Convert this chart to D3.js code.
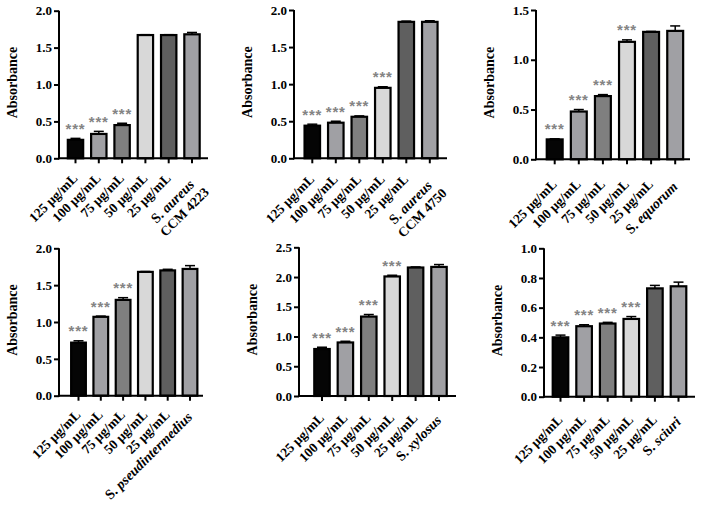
<!DOCTYPE html>
<html lang="en">
<head>
  <meta charset="UTF-8" />
  <title>Absorbance panels</title>
  <script src="https://d3js.org/d3.v7.min.js"></script>
  <style>
    body { margin: 0; background: #fff; }
    svg { display: block; }
  </style>
</head>
<body>
  <svg width="702" height="505" id="chart"></svg>

  <script>
    const svg = d3.select("#chart");

    // data
    const doses = ["125 μg/mL", "100 μg/mL", "75 μg/mL", "50 μg/mL", "25 μg/mL"];
    const controls = [
      ["S.", "aureus", "CCM 4223"],
      ["S.", "aureus", "CCM 4750"],
      ["S.", "equorum"],
      ["S.", "pseudintermedius"],
      ["S.", "xylosus"],
      ["S.", "sciuri"]
    ];
    const means = [
      [0.25, 0.33, 0.45, 1.67, 1.67, 1.68],
      [0.44, 0.48, 0.56, 0.95, 1.84, 1.84],
      [0.20, 0.48, 0.635, 1.18, 1.28, 1.29],
      [0.72, 1.07, 1.30, 1.68, 1.70, 1.72],
      [0.79, 0.90, 1.335, 2.01, 2.16, 2.17],
      [0.40, 0.475, 0.493, 0.524, 0.730, 0.744]
    ];
    const errors = [
      [0.02, 0.035, 0.025, 0.005, 0.005, 0.025],
      [0.02, 0.02, 0.012, 0.015, 0.01, 0.015],
      [0.006, 0.02, 0.015, 0.02, 0.005, 0.05],
      [0.025, 0.01, 0.03, 0.005, 0.015, 0.045],
      [0.03, 0.02, 0.035, 0.02, 0.01, 0.04],
      [0.015, 0.01, 0.008, 0.016, 0.02, 0.028]
    ];
    const starCounts = [3, 4, 4, 3, 4, 4];
    const yMax = [2, 2, 1.5, 2, 2.5, 1];
    const yTicks = [
      [0, 0.5, 1, 1.5, 2],
      [0, 0.5, 1, 1.5, 2],
      [0, 0.5, 1, 1.5],
      [0, 0.5, 1, 1.5, 2],
      [0, 0.5, 1, 1.5, 2, 2.5],
      [0, 0.2, 0.4, 0.6, 0.8, 1]
    ];
    const fills = ["#050505", "#a0a0a4", "#7f7f7f", "#d8d8d8", "#5f5f5f", "#a0a0a4"];

    // panel frames (pixels)
    const frames = [
      { x0: 59, x1: 208, top: 10.7, bot: 158.3, c0: 75.5, step: 23.3, gap: 14 },
      { x0: 294, x1: 447, top: 10, bot: 158.3, c0: 312.3, step: 23.5, gap: 15 },
      { x0: 536, x1: 690, top: 10, bot: 159.3, c0: 554.7, step: 24.1, gap: 19 },
      { x0: 59, x1: 203, top: 248.3, bot: 395.7, c0: 78.5, step: 22.3, gap: 13 },
      { x0: 299, x1: 456, top: 247.3, bot: 396, c0: 322, step: 23.4, gap: 16 },
      { x0: 544, x1: 695, top: 248.3, bot: 396.7, c0: 560.5, step: 23.6, gap: 17 }
    ];

    const serif = "'Liberation Serif', 'Times New Roman', serif";

    frames.forEach((f, p) => {
      const cats = doses.concat([controls[p].join(" ")]);
      const rows = cats.map((c, i) => ({ cat: c, v: means[p][i], e: errors[p][i], i }));

      const x = d3.scaleBand()
        .domain(cats)
        .range([f.c0 - f.step / 2, f.c0 + 5.5 * f.step])
        .paddingInner(0.34)
        .paddingOuter(0.17);
      const y = d3.scaleLinear().domain([0, yMax[p]]).range([f.bot, f.top]);
      const cx = d => x(d.cat) + x.bandwidth() / 2;

      const g = svg.append("g");

      // bars
      g.selectAll("rect.bar")
        .data(rows)
        .enter()
        .append("rect")
        .attr("class", "bar")
        .attr("x", d => x(d.cat))
        .attr("y", d => y(d.v))
        .attr("width", x.bandwidth())
        .attr("height", d => y(0) - y(d.v))
        .attr("fill", (d, i) => fills[i])
        .attr("stroke", "#000")
        .attr("stroke-width", 2.2);

      // error bars (upper only)
      g.selectAll("line.err")
        .data(rows)
        .enter()
        .append("line")
        .attr("x1", cx).attr("x2", cx)
        .attr("y1", d => y(d.v)).attr("y2", d => y(d.v + d.e))
        .attr("stroke", "#000").attr("stroke-width", 1.5);
      g.selectAll("line.cap")
        .data(rows)
        .enter()
        .append("line")
        .attr("x1", d => cx(d) - 5).attr("x2", d => cx(d) + 5)
        .attr("y1", d => y(d.v + d.e)).attr("y2", d => y(d.v + d.e))
        .attr("stroke", "#000").attr("stroke-width", 1.5);

      // significance stars
      g.selectAll("text.star")
        .data(rows.slice(0, starCounts[p]))
        .enter()
        .append("text")
        .attr("x", cx)
        .attr("y", d => y(d.v + d.e) - 4.5)
        .attr("text-anchor", "middle")
        .attr("fill", "#848484")
        .style("font-family", "'Liberation Sans', Arial, sans-serif")
        .style("font-weight", "bold")
        .style("font-size", "15px")
        .style("letter-spacing", "0.8px")
        .text("***");

      // y axis
      const yAxis = g.append("g")
        .attr("transform", `translate(${f.x0},0)`)
        .call(d3.axisLeft(y).tickValues(yTicks[p]).tickFormat(d3.format(".1f")).tickSize(5).tickSizeOuter(0));
      yAxis.select(".domain").attr("stroke-width", 2).attr("d", `M0,${f.top}V${f.bot + 1}`);
      yAxis.selectAll(".tick line").attr("stroke-width", 2);
      yAxis.selectAll(".tick text")
        .attr("x", -7)
        .style("font-family", serif)
        .style("font-weight", "bold")
        .style("font-size", "13px")
        .attr("fill", "#000");

      // x axis
      const xAxis = g.append("g")
        .attr("transform", `translate(0,${f.bot})`)
        .call(d3.axisBottom(x).tickSize(5).tickSizeOuter(0).tickFormat(""));
      xAxis.select(".domain").attr("stroke-width", 2).attr("d", `M${f.x0 - 1},0H${f.x1}`);
      xAxis.selectAll(".tick line").attr("stroke-width", 2);

      // rotated category labels
      const labelAt = (d, extra) =>
        `translate(${cx(d) - 4},${f.bot + f.gap + (extra || 0)}) rotate(-45)`;
      const catStyle = sel => sel
        .attr("text-anchor", "end")
        .attr("dy", "0.72em")
        .style("font-family", serif)
        .style("font-weight", "bold")
        .style("font-size", "13.5px");

      g.selectAll("text.cat")
        .data(rows.slice(0, 5))
        .enter()
        .append("text")
        .attr("transform", d => labelAt(d))
        .call(catStyle)
        .text(d => d.cat);

      const last = rows[5];
      const c = controls[p];
      const two = c.length > 2;
      const sp = g.append("text")
        .attr("transform", labelAt(last, two ? 6 : 2))
        .call(catStyle)
        .style("font-size", "14px");
      sp.append("tspan").text(c[0] + " ");
      sp.append("tspan").style("font-style", "italic").text(c[1]);
      if (two) {
        g.append("text")
          .attr("transform", labelAt(last, 6) + " translate(5,16)")
          .call(catStyle)
          .text(c[2]);
      }

      // y title
      g.append("text")
        .attr("transform", `translate(${f.x0 - 42},${(f.top + f.bot) / 2 - 2}) rotate(-90)`)
        .attr("text-anchor", "middle")
        .style("font-family", serif)
        .style("font-weight", "bold")
        .style("font-size", "14px")
        .text("Absorbance");
    });
  </script>
</body>
</html>
